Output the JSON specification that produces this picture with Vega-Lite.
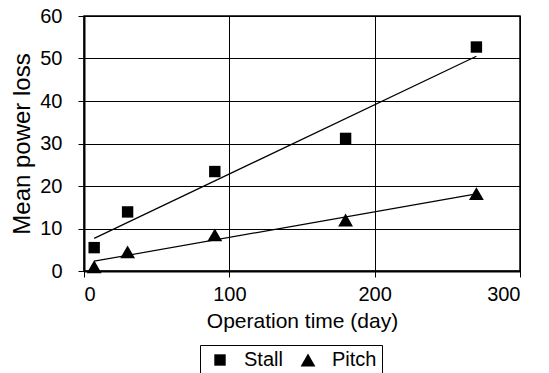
{
  "$schema": "https://vega.github.io/schema/vega-lite/v6.json",
  "autosize": "none",
  "width": 436,
  "height": 255,
  "padding": {"left": 84, "top": 16, "right": 29, "bottom": 102},
  "background": "white",
  "config": {
    "font": "Liberation Sans",
    "view": {"stroke": "black", "strokeWidth": 1.5}
  },
  "data": {
    "values": [
      {"series": "Stall", "day": 7, "loss": 5.5},
      {"series": "Stall", "day": 30, "loss": 13.9},
      {"series": "Stall", "day": 90, "loss": 23.4},
      {"series": "Stall", "day": 180, "loss": 31.2},
      {"series": "Stall", "day": 270, "loss": 52.7},
      {"series": "Pitch", "day": 7, "loss": 1.0},
      {"series": "Pitch", "day": 30, "loss": 4.5},
      {"series": "Pitch", "day": 90, "loss": 8.5},
      {"series": "Pitch", "day": 180, "loss": 12.0},
      {"series": "Pitch", "day": 270, "loss": 18.2}
    ]
  },
  "layer": [
    {
      "transform": [
        {"regression": "loss", "on": "day", "groupby": ["series"], "extent": [7, 270]}
      ],
      "mark": {"type": "line", "color": "black", "strokeWidth": 1.2},
      "encoding": {
        "x": {"field": "day", "type": "quantitative"},
        "y": {"field": "loss", "type": "quantitative"},
        "detail": {"field": "series"}
      }
    },
    {
      "mark": {"type": "point", "filled": true, "color": "black", "opacity": 1},
      "encoding": {
        "x": {
          "field": "day",
          "type": "quantitative",
          "scale": {"domain": [0, 300], "nice": false},
          "axis": {
            "values": [0, 100, 200, 300],
            "title": "Operation time (day)",
            "labelFontSize": 20, "titleFontSize": 21, "titleFontWeight": "normal",
            "labelFont": "Liberation Sans", "titleFont": "Liberation Sans",
            "labelColor": "black", "titleColor": "black",
            "domainColor": "black", "domainWidth": 2,
            "tickColor": "black", "tickSize": 6,
            "gridColor": "black", "gridOpacity": 1, "gridWidth": 1,
            "labelPadding": 7, "titlePadding": 6
          }
        },
        "y": {
          "field": "loss",
          "type": "quantitative",
          "scale": {"domain": [0, 60], "nice": false},
          "axis": {
            "values": [0, 10, 20, 30, 40, 50, 60],
            "title": "Mean power loss",
            "labelFontSize": 20, "titleFontSize": 24, "titleFontWeight": "normal",
            "labelFont": "Liberation Sans", "titleFont": "Liberation Sans",
            "labelColor": "black", "titleColor": "black",
            "domainColor": "black", "domainWidth": 2,
            "tickColor": "black", "tickSize": 6,
            "gridColor": "black", "gridOpacity": 1, "gridWidth": 1,
            "labelPadding": 16, "titlePadding": 5
          }
        },
        "shape": {
          "field": "series",
          "type": "nominal",
          "scale": {"domain": ["Stall", "Pitch"], "range": ["square", "triangle-up"]},
          "legend": {
            "title": null,
            "orient": "none",
            "legendX": 116,
            "legendY": 329,
            "direction": "horizontal",
            "strokeColor": "black",
            "padding": 5,
            "labelFontSize": 20,
            "labelFont": "Liberation Sans",
            "labelColor": "black",
            "symbolFillColor": "black",
            "symbolStrokeColor": "black",
            "symbolOffset": 5,
            "columnPadding": 10,
            "labelOffset": 14,
            "fillColor": "white"
          }
        },
        "size": {
          "field": "series",
          "type": "nominal",
          "scale": {"domain": ["Stall", "Pitch"], "range": [130, 220]}
        }
      }
    }
  ]
}
